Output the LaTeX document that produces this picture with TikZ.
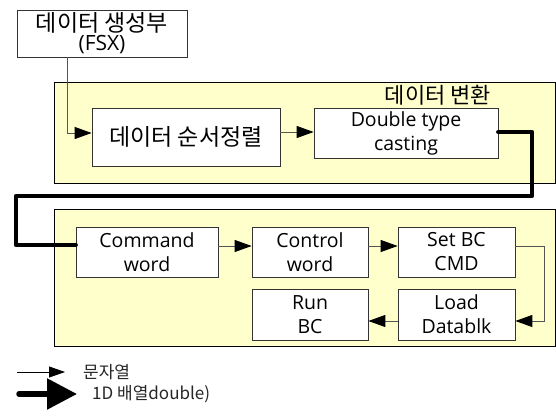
\documentclass[tikz,border=0pt]{standalone}
\usepackage{fontspec}
\setmainfont{Open Sans}
\newfontfamily\kr{Noto Sans CJK KR}
\usetikzlibrary{arrows.meta}
\definecolor{panelfill}{HTML}{FFFFCC}
\definecolor{linegrey}{HTML}{555555}
\tikzset{
  panel/.style={draw=black, fill=panelfill, line width=0.8pt},
  box/.style={draw=black!80, fill=white, line width=0.7pt, align=center, inner sep=0pt,
    font=\fontsize{19.5}{24}\selectfont},
  thin/.style={draw=linegrey, line width=0.8pt, -{Triangle[length=17pt,width=12pt,color=black]}},
  thick/.style={draw=black, line width=4.5pt, line cap=round, line join=round},
  legtext/.style={anchor=west, inner sep=0pt, font=\kr\fontsize{17}{19}\selectfont, text=black!85},
}
\begin{document}
\begin{tikzpicture}[x=1pt,y=-1pt]
\useasboundingbox (0,0) rectangle (556,417);
% panels
\path[panel] (54,82) rectangle (555,183);
\path[panel] (54,209) rectangle (555,346);
\node[inner sep=0pt, font=\kr\fontsize{22}{24}\selectfont] (title) at (438,95) {데이터 변환};
% boxes
\node[box, minimum width=170pt, minimum height=47pt, font=\fontsize{21}{21}\selectfont] (top) at (102,33.5) {{\kr\fontsize{23}{23}\selectfont 데이터 생성부}\\[-2pt](FSX)};
\node[box, minimum width=188pt, minimum height=58pt, font=\kr\fontsize{23}{25}\selectfont] (sort) at (186,137) {데이터 순서정렬};
\node[box, minimum width=184pt, minimum height=50pt] (cast) at (406,133) {Double type\\casting};
\node[box, minimum width=142pt, minimum height=50pt] (cmd) at (147,252) {Command\\word};
\node[box, minimum width=116pt, minimum height=50pt] (ctrl) at (310,252) {Control\\word};
\node[box, minimum width=117pt, minimum height=50pt] (setbc) at (456.5,252) {Set BC\\CMD};
\node[box, minimum width=116pt, minimum height=51pt] (run) at (310,314.5) {Run\\BC};
\node[box, minimum width=117pt, minimum height=51pt] (load) at (456.5,314.5) {Load\\Datablk};
% connectors
\coordinate (c1) at (67,133);
\draw[thin] (top.south -| c1) -- (c1) -- (sort.west |- c1);
\draw[thin] ([yshift=5]sort.east) -- ([yshift=1]cast.west);
\coordinate (t1) at (532,132);
\coordinate (t2) at (532,196);
\coordinate (t3) at (16,196);
\coordinate (t4) at (16,245);
\draw[thick] ([yshift=1]cast.east) -- (t1) -- (t2) -- (t3) -- (t4) -- (cmd.west |- t4);
\draw[thin] ([yshift=6]cmd.east) -- ([yshift=6]ctrl.west);
\draw[thin] ([yshift=6]ctrl.east) -- ([yshift=6]setbc.west);
\coordinate (s1) at (544,246);
\coordinate (s2) at (544,321);
\draw[thin] ([yshift=6]setbc.east) -- (s1) -- (s2) -- (load.east |- s2);
\draw[thin] (load.west |- s2) -- (run.east |- s2);
% legend
\coordinate (l1a) at (17,372);
\coordinate (l1b) at (65,372);
\draw[draw=black, line width=0.8pt, -{Triangle[length=16pt,width=11pt]}] (l1a) -- (l1b);
\node[legtext] (leg1) at (83,372) {문자열};
\coordinate (l2a) at (19,394);
\coordinate (l2b) at (77,394);
\draw[draw=black, line width=5.5pt, line cap=round, -{Triangle[length=30pt,width=30pt]}] (l2a) -- (l2b);
\node[legtext] (leg2) at (92,394) {1D 배열double)};
\end{tikzpicture}
\end{document}
